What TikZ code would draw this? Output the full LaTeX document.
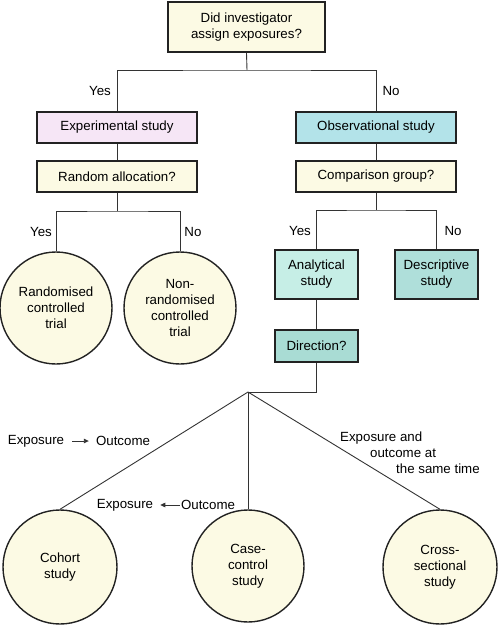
\documentclass[tikz,border=0pt]{standalone}
\usepackage{fontspec}
\setmainfont{Liberation Sans}
\usetikzlibrary{arrows.meta}
\definecolor{cream}{HTML}{FCFAE4}
\definecolor{pinkf}{HTML}{F6E6F6}
\definecolor{cyanf}{HTML}{B3E3E9}
\definecolor{teal1}{HTML}{C6EEE6}
\definecolor{teal2}{HTML}{AFDFDA}
\definecolor{teal3}{HTML}{A9DCD4}
\definecolor{edge}{HTML}{222222}
\definecolor{wire}{HTML}{333333}
\tikzset{
  box/.style={draw=edge, line width=1.8pt, inner sep=0pt, align=center},
  circ/.style={circle, draw=edge, line width=1.4pt, fill=cream, inner sep=0pt, align=center},
  wirel/.style={draw=wire, line width=0.9pt},
  lbl/.style={inner sep=0pt, align=center},
  tip/.style={-{Triangle[length=5pt,width=4.5pt]}}
}
\begin{document}
\begin{tikzpicture}[x=1pt,y=-1pt,font=\fontsize{13.3}{16}\selectfont]
\useasboundingbox (0,0) rectangle (498,625);
% boxes
\node[box, fill=cream, minimum width=157pt, minimum height=50pt] (top) at (246.5,27) {Did investigator\\assign exposures?};
\node[box, fill=pinkf, minimum width=160pt, minimum height=31pt] (exp) at (117,127.5) {Experimental study};
\node[box, fill=cyanf, minimum width=160pt, minimum height=31pt] (obs) at (376,127.5) {Observational study};
\node[box, fill=cream, minimum width=160pt, minimum height=31pt] (rand) at (117,176.5) {Random allocation?};
\node[box, fill=cream, minimum width=160pt, minimum height=31pt] (comp) at (376,176.5) {Comparison group?};
\node[box, fill=teal1, minimum width=83pt, minimum height=49pt] (ana) at (316.5,274.5) {Analytical\\study};
\node[box, fill=teal2, minimum width=83pt, minimum height=49pt] (desc) at (436.5,274.5) {Descriptive\\study};
\node[box, fill=teal3, minimum width=83pt, minimum height=32pt] (dir) at (316.5,346) {Direction?};
% circles
\node[circ, minimum size=112pt] (rct) at (56,308) {Randomised\\controlled\\trial};
\node[circ, minimum size=112pt] (nrct) at (180,308) {Non-\\randomised\\controlled\\trial};
\node[circ, minimum size=114pt] (coh) at (60,567) {Cohort\\study};
\node[circ, minimum size=112pt] (cc) at (248,566) {Case-\\control\\study};
\node[circ, minimum size=114pt] (cs) at (440,567) {Cross-\\sectional\\study};
% junctions
\coordinate (j1) at (247,70);
\coordinate (j2) at (117,211);
\coordinate (j3) at (376,210);
\coordinate (j4) at (248,392);
% connectors
\draw[wirel] (top.south) -- (j1);
\draw[wirel] (exp.north) |- (j1) -| (obs.north);
\draw[wirel] (exp.south) -- (rand.north);
\draw[wirel] (obs.south) -- (comp.north);
\draw[wirel] (rand.south) -- (j2);
\draw[wirel] (rct.north) |- (j2) -| (nrct.north);
\draw[wirel] (comp.south) -- (j3);
\draw[wirel] (ana.north) |- (j3) -| (desc.north);
\draw[wirel] (ana.south) -- (dir.north);
\draw[wirel] (dir.south) |- (j4);
\draw[wirel] (j4) -- (coh.north);
\draw[wirel] (j4) -- (cc.north);
\draw[wirel] (j4) -- (cs.north);
% labels
\node[lbl] (y1) at (100,91) {Yes};
\node[lbl] (n1) at (391,91) {No};
\node[lbl] (y2) at (41,232) {Yes};
\node[lbl] (n2) at (193,232) {No};
\node[lbl] (y3) at (300,231) {Yes};
\node[lbl] (n3) at (453,231) {No};
\node[lbl] (e1) at (36,441) {Exposure};
\node[lbl] (o1) at (123,441) {Outcome};
\draw[wirel, tip, shorten <=8pt, shorten >=7pt] (e1.east) -- (o1.west);
\node[lbl] (e2) at (125,505) {Exposure};
\node[lbl] (o2) at (208,505) {Outcome};
\draw[wirel, tip, shorten <=1pt, shorten >=7pt] (o2.west) -- (e2.east);
\node[lbl, align=left, anchor=north west] (same) at (340,432) {Exposure and\\\hspace*{30pt}outcome at\\\hspace*{56pt}the same time};
\end{tikzpicture}
\end{document}
